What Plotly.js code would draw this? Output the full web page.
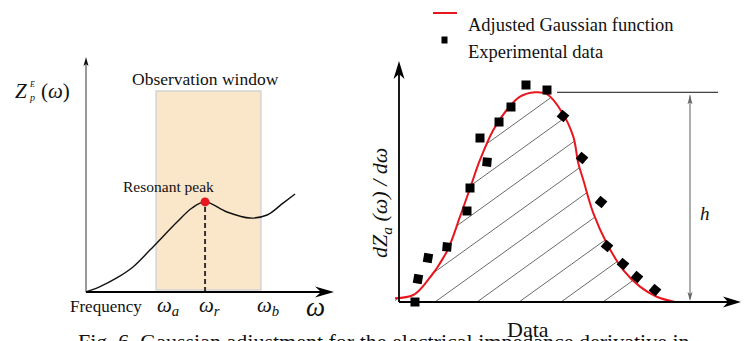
<!DOCTYPE html>
<html>
<head>
<meta charset="utf-8">
<script src="https://cdn.plot.ly/plotly-3.0.1.min.js"></script>
<style>html,body{margin:0;padding:0;background:#fff;}#chart{width:751px;height:341px;}</style>
</head>
<body>
<div id="chart"></div>
<script>
// ---------------- data (left panel: impedance spectrum schematic) ----------------
const specFreq = [0, 5.7, 12.5, 19.1, 26.0, 37.0, 43.1, 48.4, 57.3, 66.7, 73.6, 80.1, 85.0];
const specResp = [0, 2.3, 6.0, 10.7, 17.9, 29.9, 35.9, 38.5, 34.2, 31.6, 32.9, 38.0, 41.9];
const peakFreq = [48.4];
const peakResp = [38.5];
const windowFreq = [28.5, 71.1];
const windowResp = [0.85, 85.9];
const freqTickText = ['<i>ω</i><sub><i>a</i></sub>', '<i>ω</i><sub><i>r</i></sub>', '<i>ω</i><sub><i>b</i></sub>'];
const freqTickPos = [33.3, 50.0, 74.0];

// ---------------- data (right panel: Gaussian fit) ----------------
const fitX = [-1.17, 4.19, 8.12, 13.99, 17.89, 20.82, 23.75, 27.65, 31.58, 35.48, 39.88, 43.31, 47.71, 51.11, 52.58, 54.05, 56.98, 60.91, 65.78, 70.67, 75.57, 80.94];
const fitY = [1.54, 2.92, 8.46, 20.96, 35.54, 47.37, 59.17, 71.67, 80.0, 85.54, 87.38, 86.67, 79.3, 68.9, 57.8, 50.8, 37.0, 24.5, 13.3, 6.4, 2.2, 0];
const expX = [4.69, 5.57, 8.50, 14.08, 19.94, 20.82, 25.81, 23.75, 29.33, 32.84, 37.24, 43.40, 48.09, 53.67, 59.24, 61.0, 65.69, 69.79, 75.07];
const expY = [0, 9.58, 18.33, 22.92, 37.92, 47.5, 58.33, 68.33, 75.0, 81.25, 90.42, 88.33, 77.5, 60.0, 41.67, 23.33, 15.83, 10.42, 5.0];

// ---------------- geometry / style ----------------
const W = 751, H = 341;
const PL = {x0: 86, y0: 292, sx: 2.46, sy: 2.34};   // left panel: px origin & px per unit
const PR = {x0: 399, y0: 302, sx: 3.41, sy: 2.4};   // right panel
const FONT = 'Liberation Serif, Times New Roman, serif';
const RED = '#E8161E';

function xr(P) { return [(0 - P.x0) / P.sx, (W - P.x0) / P.sx]; }
function yr(P) { return [(P.y0 - H) / P.sy, P.y0 / P.sy]; }

function head(P, xref, yref, tx, ty, ux, uy, len, wid, notch, color) {
  const nx = -uy, ny = ux;
  const pts = [[0, 0],
    [-len * ux + wid / 2 * nx, -len * uy + wid / 2 * ny],
    [-(len - notch) * ux, -(len - notch) * uy],
    [-len * ux - wid / 2 * nx, -len * uy - wid / 2 * ny]];
  const path = pts.map((p, i) => (i ? 'L' : 'M') + (tx + p[0] / P.sx).toFixed(3) + ',' + (ty + p[1] / P.sy).toFixed(3)).join('') + 'Z';
  return {type: 'path', xref: xref, yref: yref, path: path, fillcolor: color, line: {width: 0}};
}

function interp(xs, ys, x) {
  if (x < xs[0] || x > xs[xs.length - 1]) return 0;
  for (let i = 1; i < xs.length; i++) {
    if (x <= xs[i]) {
      const t = (x - xs[i - 1]) / (xs[i] - xs[i - 1]);
      return ys[i - 1] + t * (ys[i] - ys[i - 1]);
    }
  }
  return 0;
}

// hatching under the fitted curve
const hatchSlope = 0.72 * PR.sx / PR.sy;
const hatchX = [], hatchY = [];
for (let k = 0; k < 9; k++) {
  const b = (267 + 42 * k - PR.x0) / PR.sx;
  let run = null;
  const xEnd = fitX[fitX.length - 1];
  for (let x = Math.max(b, fitX[0]); x <= xEnd + 0.02; x += 0.02) {
    const y = hatchSlope * (x - b);
    const inside = y >= 0 && y <= interp(fitX, fitY, x);
    if (inside) {
      if (!run) run = [[x, y], [x, y]]; else run[1] = [x, y];
    } else if (run) {
      hatchX.push(run[0][0], run[1][0], null); hatchY.push(run[0][1], run[1][1], null); run = null;
    }
  }
  if (run) { hatchX.push(run[0][0], run[1][0], null); hatchY.push(run[0][1], run[1][1], null); }
}

const peakH = Math.max(...fitY);

const traces = [
  {x: specFreq, y: specResp, xaxis: 'x', yaxis: 'y', mode: 'lines', line: {color: '#111', width: 1.4, shape: 'spline'}, hoverinfo: 'skip'},
  {x: [peakFreq[0], peakFreq[0]], y: [0, peakResp[0]], xaxis: 'x', yaxis: 'y', mode: 'lines', line: {color: '#333', width: 2, dash: '5px,3px'}, hoverinfo: 'skip'},
  {x: peakFreq, y: peakResp, xaxis: 'x', yaxis: 'y', mode: 'markers', marker: {color: RED, size: 9}, cliponaxis: false},
  {x: hatchX, y: hatchY, xaxis: 'x2', yaxis: 'y2', mode: 'lines', line: {color: '#444', width: 0.8}, hoverinfo: 'skip', connectgaps: false},
  {x: fitX, y: fitY, xaxis: 'x2', yaxis: 'y2', mode: 'lines', name: 'Adjusted Gaussian function', line: {color: RED, width: 2, shape: 'spline'}},
  {x: expX, y: expY, xaxis: 'x2', yaxis: 'y2', mode: 'markers', name: 'Experimental data', cliponaxis: false,
    marker: {symbol: 'square', size: 9, color: '#000', angle: [0, 10, 10, 5, 0, 0, 5, 0, 0, 0, 0, 0, 40, 40, 40, 40, 40, 40, 40]}}
];

const shapes = [
  // observation window
  {type: 'rect', xref: 'x', yref: 'y', x0: windowFreq[0], x1: windowFreq[1], y0: windowResp[0], y1: windowResp[1],
    fillcolor: '#FAE6C9', line: {color: '#D4D4D4', width: 1.5}, layer: 'below'},
  // left axes
  {type: 'line', xref: 'x', yref: 'y', x0: 0, y0: 0, x1: 0, y1: (PL.y0 - 60) / PL.sy, line: {color: '#555', width: 1.2}},
  head(PL, 'x', 'y', 0, (PL.y0 - 57) / PL.sy, 0, 1, 9, 5, 2, '#111'),
  {type: 'line', xref: 'x', yref: 'y', x0: 0, y0: 0, x1: (326 - PL.x0) / PL.sx, y1: 0, line: {color: '#000', width: 2}},
  head(PL, 'x', 'y', (334 - PL.x0) / PL.sx, 0, 1, 0, 19, 11, 6, '#000'),
  // right axes
  {type: 'line', xref: 'x2', yref: 'y2', x0: 0, y0: 0, x1: 0, y1: (PR.y0 - 68) / PR.sy, line: {color: '#000', width: 1.8}},
  head(PR, 'x2', 'y2', 0, (PR.y0 - 61) / PR.sy, 0, 1, 18, 11, 5, '#000'),
  {type: 'line', xref: 'x2', yref: 'y2', x0: 0, y0: 0, x1: (734 - PR.x0) / PR.sx, y1: 0, line: {color: '#000', width: 2}},
  head(PR, 'x2', 'y2', (741 - PR.x0) / PR.sx, 0, 1, 0, 18, 11, 5, '#000'),
  // peak height reference
  {type: 'line', xref: 'x2', yref: 'y2', x0: (557 - PR.x0) / PR.sx, x1: (718 - PR.x0) / PR.sx, y0: peakH, y1: peakH, line: {color: '#111', width: 1}},
  {type: 'line', xref: 'x2', yref: 'y2', x0: (690 - PR.x0) / PR.sx, x1: (690 - PR.x0) / PR.sx, y0: 3 / PR.sy, y1: peakH - 3 / PR.sy, line: {color: '#777', width: 1.2}},
  head(PR, 'x2', 'y2', (690 - PR.x0) / PR.sx, peakH - 3 / PR.sy, 0, 1, 9, 5, 2, '#666'),
  head(PR, 'x2', 'y2', (690 - PR.x0) / PR.sx, 1 / PR.sy, 0, -1, 9, 5, 2, '#666'),
  // legend swatches
  {type: 'line', xref: 'paper', yref: 'paper', x0: 433 / W, x1: 457 / W, y0: 1 - 13 / H, y1: 1 - 13 / H, line: {color: RED, width: 2}},
  {type: 'rect', xref: 'paper', yref: 'paper', x0: 441.5 / W, x1: 447.5 / W, y0: 1 - 43.5 / H, y1: 1 - 36.5 / H, fillcolor: '#000', line: {width: 0}}
];

function ann(o) {
  return Object.assign({showarrow: false, font: {family: FONT, size: 16, color: '#111'}}, o);
}
function Lx(px) { return (px - PL.x0) / PL.sx; }
function Ly(py) { return (PL.y0 - py) / PL.sy; }
function Rx(px) { return (px - PR.x0) / PR.sx; }
function Ry(py) { return (PR.y0 - py) / PR.sy; }
function f(size) { return {family: FONT, size: size, color: '#111'}; }

const annotations = [
  ann({xref: 'x', yref: 'y', x: Lx(205), y: Ly(79), text: 'Observation window', font: f(17.5)}),
  ann({xref: 'x', yref: 'y', x: Lx(168), y: Ly(186), text: 'Resonant peak', font: f(15.5)}),
  ann({xref: 'x', yref: 'y', x: Lx(21), y: Ly(91), text: '<i>Z</i>', font: f(21)}),
  ann({xref: 'x', yref: 'y', x: Lx(31.5), y: Ly(84), text: '<i>E</i>', font: f(8)}),
  ann({xref: 'x', yref: 'y', x: Lx(31.5), y: Ly(97), text: '<i>p</i>', font: f(10)}),
  ann({xref: 'x', yref: 'y', x: Lx(55), y: Ly(91), text: '(<i>ω</i>)', font: f(21)}),
  ann({xref: 'x', yref: 'y', x: Lx(106), y: Ly(306), text: 'Frequency', font: f(17)}),
  ann({xref: 'x', yref: 'y', x: Lx(315), y: Ly(307), text: '<i>ω</i>', font: f(27)}),
  ann({xref: 'x2', yref: 'y2', x: Rx(528), y: Ry(329), text: 'Data', font: f(22)}),
  ann({xref: 'x2', yref: 'y2', x: Rx(381), y: Ry(203), text: '<i>dZ</i><sub><i>a</i></sub><i> (ω) / dω</i>', textangle: -90, font: f(22)}),
  ann({xref: 'x2', yref: 'y2', x: Rx(705), y: Ry(213), text: '<i>h</i>', font: f(19)}),
  ann({xref: 'paper', yref: 'paper', x: 466 / W, y: 1 - 13 / H, xanchor: 'left', text: 'Adjusted Gaussian function', font: f(18.5)}),
  ann({xref: 'paper', yref: 'paper', x: 466 / W, y: 1 - 40 / H, xanchor: 'left', text: 'Experimental data', font: f(18.5)}),
  ann({xref: 'paper', yref: 'paper', x: 76 / W, y: 1 - 327 / H, xanchor: 'left', yanchor: 'top', text: 'Fig. 6. Gaussian adjustment for the electrical impedance derivative in', font: f(22)})
];
freqTickText.forEach((t, i) => {
  annotations.push(ann({xref: 'x', yref: 'y', x: freqTickPos[i], y: Ly(306), text: t, font: f(21)}));
});

const axisBase = {visible: false, showgrid: false, zeroline: false, fixedrange: true, domain: [0, 1]};
const layout = {
  width: W, height: H,
  margin: {l: 0, r: 0, t: 0, b: 0},
  paper_bgcolor: '#fff', plot_bgcolor: 'rgba(0,0,0,0)',
  showlegend: false,
  xaxis: Object.assign({}, axisBase, {range: xr(PL), anchor: 'y'}),
  yaxis: Object.assign({}, axisBase, {range: yr(PL), anchor: 'x'}),
  xaxis2: Object.assign({}, axisBase, {range: xr(PR), anchor: 'y2'}),
  yaxis2: Object.assign({}, axisBase, {range: yr(PR), anchor: 'x2'}),
  shapes: shapes,
  annotations: annotations
};

Plotly.newPlot('chart', traces, layout, {staticPlot: true, displayModeBar: false});
</script>
</body>
</html>
